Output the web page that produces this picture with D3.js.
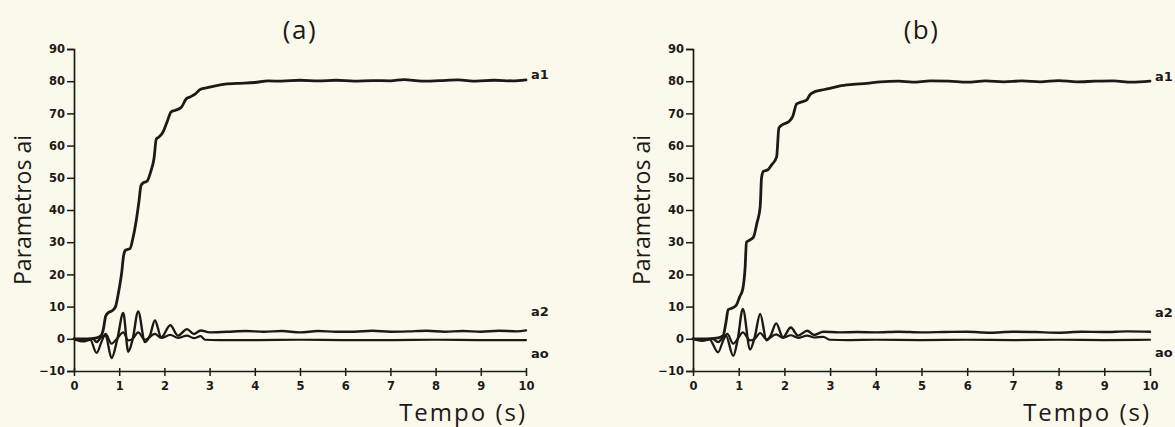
<!DOCTYPE html>
<html>
<head>
<meta charset="utf-8">
<script src="https://cdn.jsdelivr.net/npm/d3@7"></script>
<style>
  html, body { margin: 0; padding: 0; background: #fbf9ec; }
  svg { display: block; }
</style>
</head>
<body>
<svg id="chart" width="1175" height="427"></svg>
<script>
// ---------------- DATA ----------------
const xTicks = [0, 1, 2, 3, 4, 5, 6, 7, 8, 9, 10];
const yTicks = [-10, 0, 10, 20, 30, 40, 50, 60, 70, 80, 90];
const panelTitles = ["(a)", "(b)"];
const seriesNames = ["a1", "a2", "ao"];

// Panel (a): [time (s), value]
const a1_A = [[0,0],[0.3,0],[0.5,0.3],[0.6,1],[0.65,3],[0.7,7],[0.75,8],[0.85,8.8],[0.92,10],[0.98,14],[1.05,20],[1.1,26],[1.14,27.5],[1.24,28],[1.3,31],[1.38,37],[1.44,43],[1.48,47.5],[1.52,48.3],[1.62,49],[1.7,52],[1.77,56],[1.82,62],[1.87,62.6],[1.96,64],[2.05,67],[2.15,70.5],[2.25,71],[2.38,72],[2.48,74.5],[2.58,75.2],[2.68,76],[2.8,77.5],[2.95,78],[3.1,78.5],[3.3,79],[3.6,79.3],[4.0,79.6],[4.3,80.1],[4.6,80],[5.0,80.3],[5.4,80.1],[5.8,80.3],[6.2,80],[6.6,80.2],[7.0,80.1],[7.3,80.5],[7.7,80],[8.1,80.2],[8.5,80.4],[8.9,80],[9.3,80.3],[9.7,80.1],[10,80.4]];
const a2_A = [[0,0],[0.2,-0.8],[0.32,-0.4],[0.42,0],[0.5,-1],[0.6,0.5],[0.7,1],[0.83,-6],[0.96,0],[1.09,8],[1.2,-4],[1.3,0],[1.42,8.5],[1.57,-1],[1.68,1],[1.79,5.7],[1.93,0.5],[2.13,4.2],[2.3,1],[2.5,3],[2.65,1.5],[2.8,2.6],[3.0,2],[3.4,2.2],[3.8,2.4],[4.2,2.2],[4.6,2.4],[5.0,2.0],[5.4,2.4],[5.8,2.2],[6.2,2.2],[6.6,2.5],[7.0,2.2],[7.4,2.3],[7.8,2.5],[8.2,2.2],[8.6,2.4],[9.0,2.2],[9.4,2.5],[9.8,2.3],[10,2.6]];
const a0_A = [[0,0],[0.2,-0.5],[0.35,0],[0.5,-4.4],[0.62,-0.5],[0.7,1.5],[0.83,-1.5],[0.95,0],[1.09,2],[1.2,-0.5],[1.3,0],[1.42,2],[1.57,-0.3],[1.79,1.5],[1.93,0.3],[2.13,1.2],[2.3,0.3],[2.5,1],[2.65,0.2],[2.8,0.8],[2.9,-0.3],[3.2,-0.4],[4,-0.4],[5,-0.3],[6,-0.4],[7,-0.4],[8,-0.3],[9,-0.4],[10,-0.4]];

// Panel (b)
const a1_B = [[0,0],[0.3,0],[0.55,0.3],[0.66,1],[0.72,5],[0.77,9],[0.85,9.5],[0.95,10.5],[1.02,13],[1.09,15.5],[1.14,22],[1.17,30],[1.22,30.5],[1.32,31.5],[1.4,36],[1.47,41],[1.5,50],[1.54,52],[1.64,52.5],[1.72,54],[1.83,56.5],[1.88,65.5],[1.96,66.5],[2.1,67.5],[2.18,69],[2.27,73],[2.36,73.5],[2.49,74.2],[2.56,75.8],[2.63,76.5],[2.8,77.2],[3.0,77.8],[3.2,78.5],[3.5,79],[3.8,79.3],[4.1,79.8],[4.5,80],[4.8,79.7],[5.2,80.1],[5.6,80],[6.0,79.7],[6.4,80.1],[6.8,79.8],[7.2,80.1],[7.6,79.8],[8.0,80.2],[8.4,79.8],[8.8,80],[9.2,80.1],[9.6,79.7],[10,80]];
const a2_B = [[0,0],[0.2,-0.6],[0.32,-0.3],[0.42,0],[0.55,-1],[0.65,0.3],[0.72,1],[0.88,-5.3],[0.98,0],[1.09,9.3],[1.25,-3.3],[1.35,0.5],[1.47,7.7],[1.61,-0.5],[1.7,1],[1.82,4.8],[1.97,0.5],[2.14,3.5],[2.3,1],[2.5,2.5],[2.65,1.2],[2.85,2.2],[3.2,2.0],[3.6,2.1],[4.0,2.0],[4.5,2.2],[5.0,2.0],[5.5,2.1],[6.0,2.2],[6.5,1.9],[7.0,2.2],[7.5,2.1],[8.0,1.9],[8.5,2.2],[9.0,2.1],[9.5,2.3],[10,2.2]];
const a0_B = [[0,0],[0.2,-0.5],[0.35,0],[0.55,-4.2],[0.66,-0.5],[0.75,1.5],[0.88,-1.5],[0.98,0],[1.09,2],[1.25,-0.5],[1.35,0],[1.47,1.8],[1.61,-0.2],[1.82,1.4],[1.97,0.3],[2.14,1.1],[2.3,0.3],[2.5,1],[2.65,0.4],[2.85,0.6],[3.0,-0.3],[3.4,-0.4],[4,-0.3],[5,-0.4],[6,-0.3],[7,-0.4],[8,-0.3],[9,-0.4],[10,-0.3]];

// ---------------- DRAW ----------------
const svg = d3.select("#chart");
const ink = "#1c1a17";
const yTop = 49, yBottom = 371;

const panels = [
  { x0: 74, x1: 526, title: panelTitles[0], data: [a1_A, a2_A, a0_A] },
  { x0: 693, x1: 1150, title: panelTitles[1], data: [a1_B, a2_B, a0_B] }
];

const labelOffsets = { a1: -5, a2: -19, ao: 13 };
const lineWidths = { a1: 2.8, a2: 2.4, ao: 2.2 };
const tickFont = g => g.attr("fill", ink)
  .style("font-family", "DejaVu Sans").style("font-weight", "bold").style("font-size", "11.5px");

panels.forEach(p => {
  const x = d3.scaleLinear().domain([0, 10]).range([p.x0, p.x1]);
  const y = d3.scaleLinear().domain([-10, 90]).range([yBottom, yTop]);
  const g = svg.append("g");

  // y axis
  const yAxis = d3.axisLeft(y).tickValues(yTicks).tickSize(7).tickPadding(2)
    .tickFormat(d => d < 0 ? "\u2212" + Math.abs(d) : d);
  const gy = g.append("g").attr("transform", `translate(${p.x0},0)`).call(yAxis);
  gy.select(".domain").attr("stroke", ink).attr("stroke-width", 1.7);
  gy.selectAll(".tick line").attr("stroke", ink).attr("stroke-width", 1.5);
  gy.selectAll(".tick text").call(tickFont);

  // x axis at y = -10
  const xAxis = d3.axisBottom(x).tickValues(xTicks).tickSize(5).tickPadding(6).tickSizeOuter(0);
  const gx = g.append("g").attr("transform", `translate(0,${yBottom})`).call(xAxis);
  gx.select(".domain").attr("stroke", ink).attr("stroke-width", 1.7);
  gx.selectAll(".tick line").attr("stroke", ink).attr("stroke-width", 1.5).attr("y1", -3);
  gx.selectAll(".tick text").call(tickFont);

  // lines
  const line = d3.line().x(d => x(d[0])).y(d => y(d[1])).curve(d3.curveMonotoneX);
  p.data.forEach((series, i) => {
    const name = seriesNames[i];
    g.append("path").datum(series)
      .attr("d", line)
      .attr("fill", "none")
      .attr("stroke", ink)
      .attr("stroke-width", lineWidths[name])
      .attr("stroke-linejoin", "round")
      .attr("stroke-linecap", "round");
    const last = series[series.length - 1];
    g.append("text")
      .attr("x", x(10) + 5)
      .attr("y", y(last[1]) + labelOffsets[name])
      .attr("dy", "0.35em")
      .attr("fill", ink)
      .style("font-family", "DejaVu Sans")
      .style("font-weight", "bold")
      .style("font-size", "13px")
      .text(name);
  });

  // title
  g.append("text")
    .attr("x", x(5))
    .attr("y", 39)
    .attr("text-anchor", "middle")
    .attr("fill", ink)
    .style("font-family", "Open Sans")
    .style("font-size", "26px")
    .style("letter-spacing", "1.5px")
    .text(p.title);

  // x label
  g.append("text")
    .attr("x", p.x1 + 1)
    .attr("y", 421)
    .attr("text-anchor", "end")
    .attr("fill", ink)
    .style("font-family", "Open Sans")
    .style("font-size", "24px")
    .style("letter-spacing", "2px")
    .text("Tempo (s)");

  // y label
  g.append("text")
    .attr("transform", `translate(${p.x0 - 43},${210}) rotate(-90)`)
    .attr("text-anchor", "middle")
    .attr("fill", ink)
    .style("font-family", "Open Sans")
    .style("font-size", "23px")
    .text("Parametros ai");
});
</script>
</body>
</html>
